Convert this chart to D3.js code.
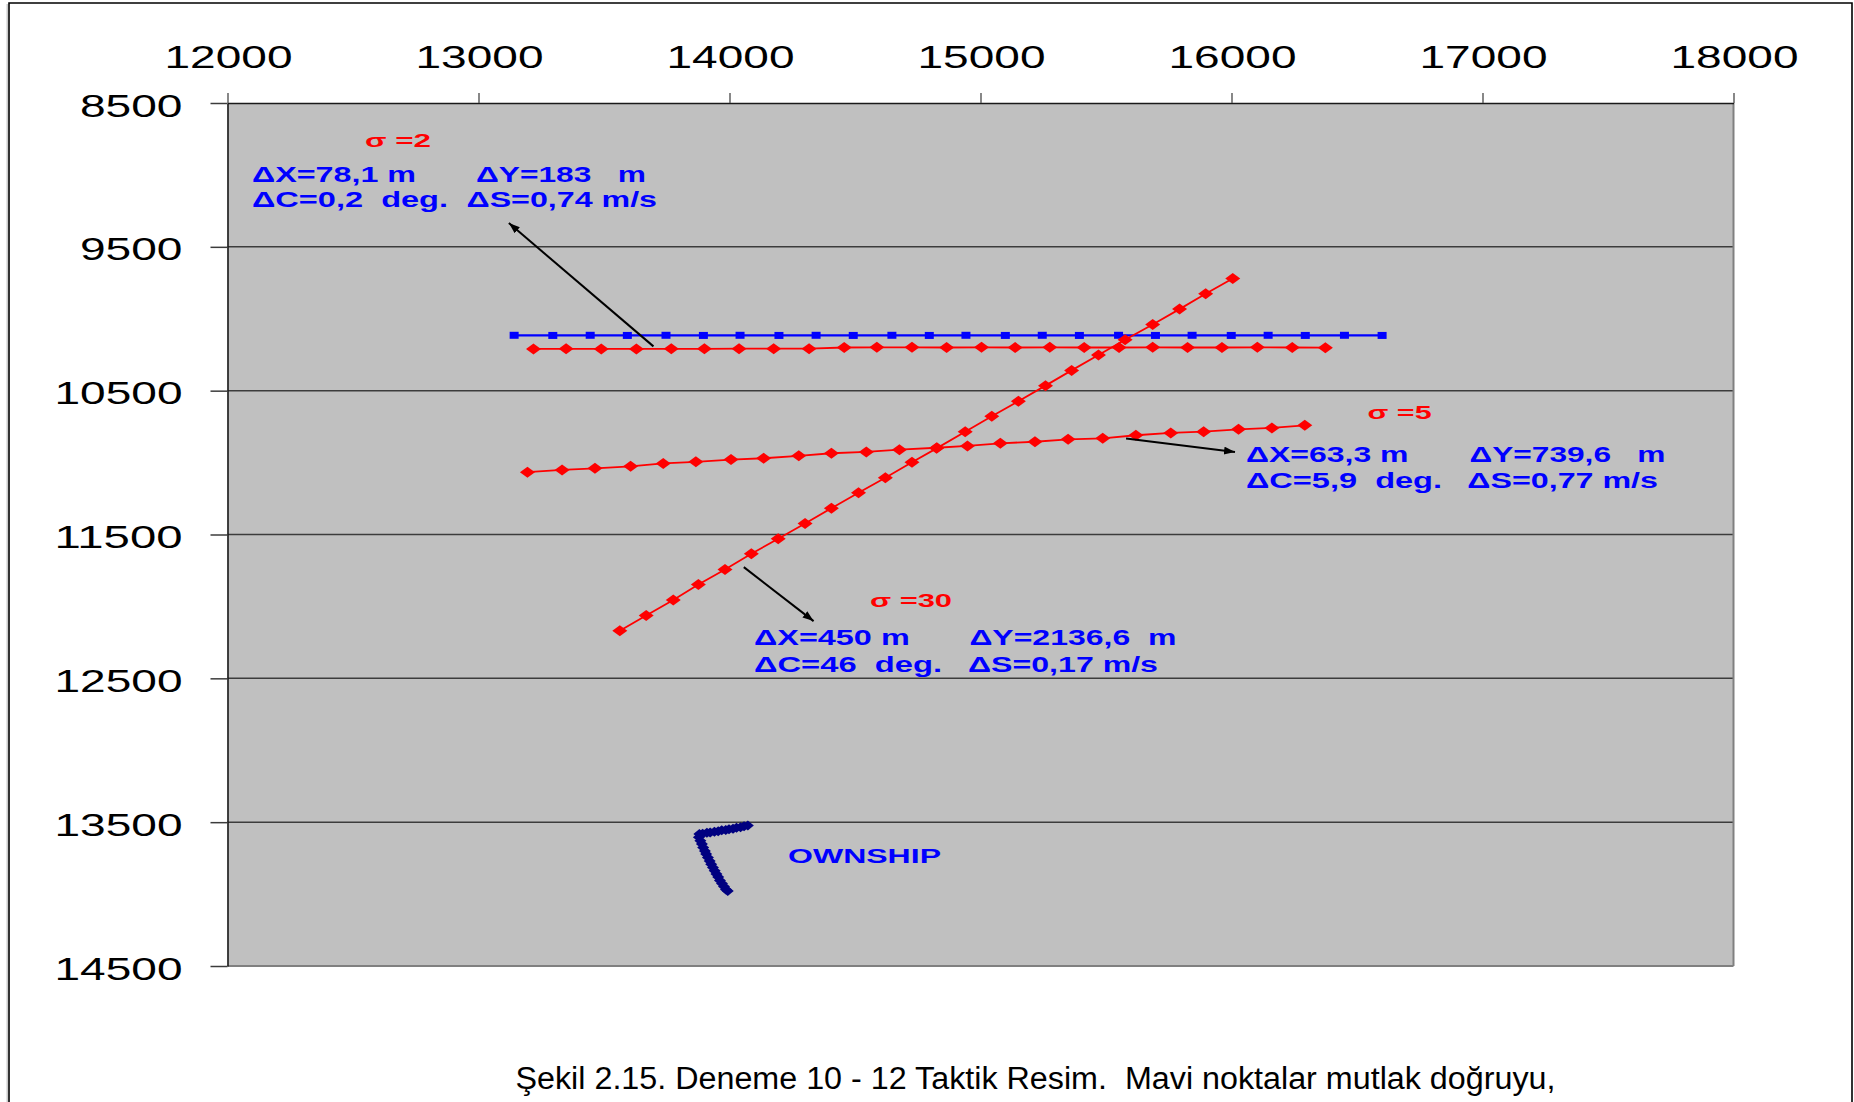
<!DOCTYPE html>
<html>
<head>
<meta charset="utf-8">
<script src="https://cdn.jsdelivr.net/npm/d3@7"></script>
<style>
  html, body { margin: 0; padding: 0; background: #ffffff; }
  svg text { font-family: "Liberation Sans", Arial, Helvetica, sans-serif; white-space: pre; }
</style>
</head>
<body>
<svg id="chart" width="1854" height="1102"></svg>
<script>
// ---- axis ticks ----
const xTicks = [12000, 13000, 14000, 15000, 16000, 17000, 18000];
const yTicks = [8500, 9500, 10500, 11500, 12500, 13500, 14500];

// ---- true target track (blue) ----
const trueX = [13142, 13296, 13445, 13593, 13747, 13896, 14042, 14197, 14345, 14493, 14647, 14796,
               14942, 15099, 15246, 15394, 15550, 15697, 15843, 15999, 16146, 16294, 16450, 16600];
const trueY = [10115, 10116, 10115, 10116, 10115, 10116, 10115, 10116, 10115, 10116, 10115, 10116,
               10115, 10116, 10115, 10116, 10115, 10116, 10115, 10116, 10115, 10116, 10115, 10116];

// ---- estimated track, sigma = 2 ----
const sigma2X = [13219, 13349, 13489, 13629, 13768, 13900, 14038, 14176, 14317, 14457, 14587, 14727,
                 14865, 15004, 15138, 15276, 15413, 15552, 15686, 15825, 15962, 16103, 16242, 16374];
const sigma2Y = [10210, 10209, 10210, 10210, 10209, 10209, 10208, 10208, 10208, 10200, 10199, 10199,
                 10200, 10199, 10200, 10199, 10200, 10200, 10199, 10200, 10200, 10199, 10200, 10201];

// ---- estimated track, sigma = 5 ----
const sigma5X = [13195, 13333, 13464, 13606, 13736, 13866, 14006, 14136, 14276, 14406, 14545, 14677,
                 14826, 14948, 15079, 15217, 15349, 15487, 15619, 15758, 15889, 16028, 16161, 16292];
const sigma5Y = [11067, 11051, 11040, 11026, 11006, 10995, 10979, 10970, 10953, 10935, 10926, 10910,
                 10897, 10884, 10866, 10855, 10838, 10831, 10810, 10794, 10785, 10769, 10759, 10741];

// ---- estimated track, sigma = 30 ----
const sigma30X = [13563, 13668, 13776, 13876, 13982, 14087, 14194, 14301, 14406, 14514, 14621, 14727,
                  14825, 14939, 15045, 15151, 15259, 15363, 15470, 15576, 15686, 15793, 15897, 16005];
const sigma30Y = [12169, 12063, 11956, 11847, 11743, 11634, 11530, 11424, 11317, 11210, 11105, 10998,
                  10901, 10785, 10678, 10574, 10465, 10359, 10252, 10146, 10040, 9933, 9826, 9720];

// ---- own ship track ----
const ownX = [14073, 14058, 14044, 14028, 14014, 13998, 13985, 13969, 13955, 13940, 13923, 13910,
              13893, 13880, 13878, 13884, 13890, 13895, 13902, 13907, 13914, 13921, 13927, 13934,
              13941, 13948, 13955, 13962, 13970, 13978, 13986, 13993];
const ownY = [13524, 13528, 13535, 13539, 13546, 13549, 13555, 13557, 13564, 13566, 13572, 13574,
              13580, 13583, 13605, 13630, 13652, 13676, 13700, 13722, 13746, 13770, 13792, 13815,
              13838, 13860, 13882, 13905, 13926, 13948, 13968, 13979];

// ---- error summaries printed beside each estimate ----
const sigmaLabels = ["σ =2", "σ =5", "σ =30"];
const errRow1 = [["ΔX=78,1 m", "ΔY=183   m"], ["ΔX=63,3 m", "ΔY=739,6   m"], ["ΔX=450 m", "ΔY=2136,6  m"]];
const errRow2 = [["ΔC=0,2  deg.", "ΔS=0,74 m/s"], ["ΔC=5,9  deg.", "ΔS=0,77 m/s"], ["ΔC=46  deg.", "ΔS=0,17 m/s"]];
const ownLabel = "OWNSHIP";
const caption = "Şekil 2.15. Deneme 10 - 12 Taktik Resim.  Mavi noktalar mutlak doğruyu,";

// ---------------------------------------------------------------------------
const svg = d3.select("#chart");
const W = 1854, H = 1102;
const plot = { left: 227.5, right: 1733.5, top: 103, bottom: 966 };

const x = d3.scaleLinear().domain([12000, 18000]).range([plot.left, plot.right]);
const y = d3.scaleLinear().domain([8500, 14500]).range([plot.top, plot.bottom]);

svg.append("rect").attr("width", W).attr("height", H).attr("fill", "#ffffff");

// page frame
svg.append("path")
  .attr("d", `M9,${H + 2} V3 H1852 V${H + 2}`)
  .attr("fill", "none").attr("stroke", "#000").attr("stroke-width", 1.6);
svg.append("line").attr("x1", 7.2).attr("x2", 7.2).attr("y1", 4).attr("y2", H)
  .attr("stroke", "#bdbdbd").attr("stroke-width", 1.2);

// plot area
svg.append("rect")
  .attr("x", plot.left).attr("y", plot.top)
  .attr("width", plot.right - plot.left).attr("height", plot.bottom - plot.top)
  .attr("fill", "#c0c0c0");

// horizontal gridlines
svg.append("g").selectAll("line")
  .data(yTicks.slice(1, -1))
  .join("line")
  .attr("x1", plot.left).attr("x2", plot.right)
  .attr("y1", d => y(d)).attr("y2", d => y(d))
  .attr("stroke", "#3c3c3c").attr("stroke-width", 1.5);

// plot borders
svg.append("line").attr("x1", plot.right).attr("x2", plot.right).attr("y1", plot.top).attr("y2", plot.bottom)
  .attr("stroke", "#808080").attr("stroke-width", 2);
svg.append("line").attr("x1", plot.left).attr("x2", plot.right).attr("y1", plot.bottom).attr("y2", plot.bottom)
  .attr("stroke", "#808080").attr("stroke-width", 2);

// top axis
const xAxis = svg.append("g").attr("transform", `translate(0,${plot.top})`)
  .call(d3.axisTop(x).tickValues(xTicks).tickSize(10).tickSizeOuter(0).tickFormat(d3.format("d")));
xAxis.select(".domain").attr("stroke", "#1a1a1a").attr("stroke-width", 1.6);
xAxis.selectAll(".tick line").attr("stroke", "#555").attr("stroke-width", 1.4);
xAxis.selectAll(".tick text")
  .attr("fill", "#000").attr("font-size", 30.5)
  .attr("text-anchor", "start")
  .attr("x", -63.5).attr("y", -35).attr("dy", 0)
  .attr("textLength", 128).attr("lengthAdjust", "spacingAndGlyphs");

// left axis
const yAxis = svg.append("g").attr("transform", `translate(${plot.left},0)`)
  .call(d3.axisLeft(y).tickValues(yTicks).tickSize(17).tickSizeOuter(0).tickFormat(d3.format("d")));
yAxis.select(".domain").attr("stroke", "#1a1a1a").attr("stroke-width", 1.6);
yAxis.selectAll(".tick line").attr("stroke", "#3c3c3c").attr("stroke-width", 1.5);
yAxis.selectAll(".tick text")
  .attr("fill", "#000").attr("font-size", 30.5)
  .attr("text-anchor", "start")
  .each(function (d) {
    const w = String(d).length === 4 ? 102.5 : 128;
    d3.select(this).attr("x", -45 - w).attr("textLength", w);
  })
  .attr("y", 13).attr("dy", 0)
  .attr("lengthAdjust", "spacingAndGlyphs");

// ---- tracks ----
const zipPts = (xs, ys) => xs.map((v, i) => [v, ys[i]]);
const line = d3.line().x(d => x(d[0])).y(d => y(d[1]));
const diamond = (hw, hh) => `M${-hw},0L0,${-hh}L${hw},0L0,${hh}Z`;

function drawDiamondTrack(pts, color, lineW, hw, hh) {
  const g = svg.append("g");
  g.append("path").attr("d", line(pts)).attr("fill", "none")
    .attr("stroke", color).attr("stroke-width", lineW);
  g.selectAll("path.mk").data(pts).join("path").attr("class", "mk")
    .attr("d", diamond(hw, hh))
    .attr("transform", d => `translate(${x(d[0])},${y(d[1])})`)
    .attr("fill", color);
}

// true track: blue squares
const truePts = zipPts(trueX, trueY);
const gTrue = svg.append("g");
gTrue.append("path").attr("d", line(truePts)).attr("fill", "none")
  .attr("stroke", "#0000ff").attr("stroke-width", 2.3);
gTrue.selectAll("rect").data(truePts).join("rect")
  .attr("x", d => x(d[0]) - 4.5).attr("y", d => y(d[1]) - 3.5)
  .attr("width", 9).attr("height", 7).attr("fill", "#0000ff");

drawDiamondTrack(zipPts(sigma2X, sigma2Y), "#ff0000", 1.8, 7.5, 5.5);
drawDiamondTrack(zipPts(sigma5X, sigma5Y), "#ff0000", 1.8, 7.5, 5.5);
drawDiamondTrack(zipPts(sigma30X, sigma30Y), "#ff0000", 1.8, 7.5, 5.5);

// own ship
drawDiamondTrack(zipPts(ownX, ownY), "#000080", 3, 6, 5);

// ---- annotations ----
const defs = svg.append("defs");
defs.append("marker").attr("id", "arrow")
  .attr("markerUnits", "userSpaceOnUse")
  .attr("markerWidth", 12).attr("markerHeight", 10)
  .attr("refX", 11).attr("refY", 4).attr("orient", "auto")
  .append("path").attr("d", "M0,0L11,4L0,8Z").attr("fill", "#000");

// arrows: [from x, from y, to x, to y] in data units
const arrows = [
  [13697, 10192, 13121, 9335],
  [15580, 10833, 16014, 10926],
  [14057, 11727, 14335, 12102]
];
svg.append("g").selectAll("line").data(arrows).join("line")
  .attr("x1", d => x(d[0])).attr("y1", d => y(d[1]))
  .attr("x2", d => x(d[2])).attr("y2", d => y(d[3]))
  .attr("stroke", "#000").attr("stroke-width", 2)
  .attr("marker-end", "url(#arrow)");

// text placement for each annotation block
const blocks = [
  { sig: [365, 146.5, 66], r1: [[252, 164], [476, 170]], r2: [[252, 196], [466.5, 190.5]], b1: 181.7, b2: 207.3 },
  { sig: [1367.6, 419, 64], r1: [[1246, 162.5], [1469.5, 196]], r2: [[1246, 196], [1467.3, 190.7]], b1: 462, b2: 488.3 },
  { sig: [870, 607.3, 82], r1: [[754, 155.7], [969.4, 207]], r2: [[754, 188], [968, 190]], b1: 645, b2: 671.7 }
];

const tg = svg.append("g").attr("font-weight", "bold");
function addText(str, px, py, w, size, color) {
  tg.append("text").attr("x", px).attr("y", py)
    .attr("font-size", size).attr("fill", color)
    .attr("textLength", w).attr("lengthAdjust", "spacingAndGlyphs")
    .text(str);
}
blocks.forEach((b, i) => {
  addText(sigmaLabels[i], b.sig[0], b.sig[1], b.sig[2], 19, "#ff0000");
  errRow1[i].forEach((s, j) => addText(s, b.r1[j][0], b.b1, b.r1[j][1], 22, "#0000ff"));
  errRow2[i].forEach((s, j) => addText(s, b.r2[j][0], b.b2, b.r2[j][1], 22, "#0000ff"));
});
addText(ownLabel, 788, 862.7, 153, 20.5, "#0000ff");

// caption
svg.append("text")
  .attr("x", 515.5).attr("y", 1089)
  .attr("font-size", 31).attr("fill", "#000")
  .attr("textLength", 1040).attr("lengthAdjust", "spacingAndGlyphs")
  .text(caption);
</script>
</body>
</html>
